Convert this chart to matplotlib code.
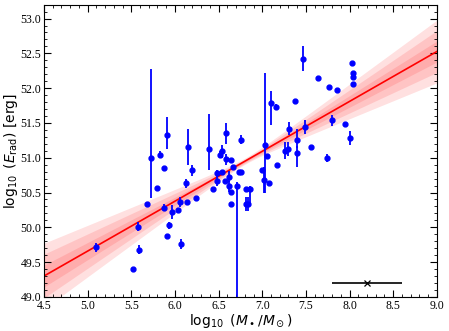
import numpy as np
import matplotlib.pyplot as plt

# data
log_mass = [5.09, 5.52, 5.58, 5.585, 5.68, 5.73, 5.80, 5.83, 5.87, 5.87,
            5.905, 5.91, 5.935, 5.97, 6.03, 6.06, 6.07, 6.13, 6.14, 6.15,
            6.19, 6.24, 6.39, 6.44, 6.48, 6.48, 6.52, 6.54, 6.54, 6.58,
            6.585, 6.57, 6.62, 6.62, 6.64, 6.64, 6.64, 6.66, 6.71, 6.73,
            6.76, 6.76, 6.81, 6.81, 6.84, 6.86, 7.00, 7.02, 7.03, 7.05,
            7.08, 7.10, 7.16, 7.17, 7.26, 7.29, 7.31, 7.38, 7.40, 7.40,
            7.47, 7.49, 7.56, 7.64, 7.74, 7.76, 7.80, 7.86, 7.95, 8.00,
            8.03, 8.04, 8.04, 8.04]
log_erad = [49.71, 49.40, 50.01, 49.68, 50.34, 51.00, 50.57, 51.04, 50.85, 50.28,
            49.88, 51.33, 50.03, 50.22, 50.25, 50.36, 49.76, 50.63, 50.37, 51.15,
            50.82, 50.42, 51.13, 50.55, 50.78, 50.67, 51.04, 51.09, 50.80, 51.35,
            50.98, 50.67, 50.73, 50.59, 50.97, 50.51, 50.34, 50.87, 50.60, 50.80,
            50.79, 51.26, 50.55, 50.34, 50.33, 50.55, 50.83, 50.68, 51.18, 51.02,
            50.64, 51.78, 51.73, 50.90, 51.10, 51.12, 51.42, 51.82, 51.26, 51.07,
            52.42, 51.44, 51.15, 52.15, 51.00, 52.01, 51.54, 51.97, 51.49, 51.29,
            52.36, 52.22, 52.16, 52.06]
err_lo = [0.06, 0, 0.07, 0.06, 0, 0.58, 0, 0.05, 0, 0.05,
          0, 0.20, 0.05, 0.10, 0, 0.07, 0.07, 0.07, 0, 0.26,
          0.08, 0, 0.30, 0, 0.05, 0.07, 0.05, 0.10, 0, 0.15,
          0.08, 0, 0.08, 0.08, 0, 0, 0, 0, 2.00, 0,
          0, 0.06, 0, 0.10, 0.10, 0.20, 0, 0.18, 0.69, 0,
          0, 0.31, 0.04, 0, 0.12, 0.10, 0.10, 0, 0.12, 0.20,
          0.18, 0.10, 0, 0, 0.06, 0, 0.08, 0, 0, 0.10,
          0, 0, 0, 0]
err_hi = [0.06, 0, 0.07, 0.06, 0, 1.28, 0, 0.05, 0, 0.05,
          0, 0.25, 0.05, 0.10, 0, 0.07, 0.07, 0.07, 0, 0.26,
          0.08, 0, 0.50, 0, 0.05, 0.07, 0.05, 0.10, 0, 0.15,
          0.08, 0, 0.08, 0.08, 0, 0, 0, 0, 0.05, 0,
          0, 0.06, 0, 0.10, 0.10, 0.05, 0, 0.18, 1.04, 0,
          0, 0.18, 0.04, 0, 0.12, 0.10, 0.10, 0, 0.15, 0.10,
          0.18, 0.10, 0, 0, 0.06, 0, 0.08, 0, 0, 0.10,
          0, 0, 0, 0]

# best fit and its uncertainty
fit_x0, fit_y0, fit_slope = 4.5, 49.30, 0.717
sig_int, sig_slope, pivot = 0.015, 0.068, 6.8

# typical mass uncertainty marker
typ_x, typ_y, typ_xerr = 8.2, 49.2, 0.4

plt.rcParams['mathtext.fontset'] = 'dejavusans'

fig, ax = plt.subplots(figsize=(4.49, 3.31), dpi=100)
fig.subplots_adjust(left=0.098, right=0.973, bottom=0.103, top=0.986)

xx = np.linspace(4.5, 9.0, 200)
yy = fit_y0 + fit_slope * (xx - fit_x0)
sig = np.sqrt(sig_int**2 + (sig_slope * (xx - pivot))**2)
for n in (3, 2, 1):
    ax.fill_between(xx, yy - n * sig, yy + n * sig, color='red', alpha=0.12, lw=0)
ax.plot(xx, yy, color='red', lw=1.2)

ax.errorbar(log_mass, log_erad, yerr=[err_lo, err_hi], fmt='o', color='blue',
            ms=3.5, elinewidth=1.3, capsize=0)
ax.errorbar([typ_x], [typ_y], xerr=[typ_xerr], fmt='x', color='black',
            ms=5, elinewidth=1.2, capsize=0, mew=0.9)

ax.set_xlim(4.5, 9.0)
ax.set_ylim(49.0, 53.2)
ax.set_xticks(np.arange(4.5, 9.01, 0.5))
ax.set_yticks(np.arange(49.0, 53.01, 0.5))
ax.set_xticks(np.arange(4.5, 9.01, 0.1), minor=True)
ax.set_yticks(np.arange(49.0, 53.21, 0.1), minor=True)
ax.tick_params(which='both', direction='in', top=True, right=True, pad=2)
ax.tick_params(which='major', length=5)
ax.tick_params(which='minor', length=2.5)
for lab in ax.get_xticklabels() + ax.get_yticklabels():
    lab.set_family('Liberation Serif')
    lab.set_fontsize(8.5)

ax.set_xlabel(r'$\log_{10}$ ($M_\bullet/M_\odot$)', fontsize=10, labelpad=0)
ax.set_ylabel(r'$\log_{10}$ ($E_{\rm rad}$) [erg]', fontsize=10, labelpad=0)

fig.savefig('out.png', dpi=100)
